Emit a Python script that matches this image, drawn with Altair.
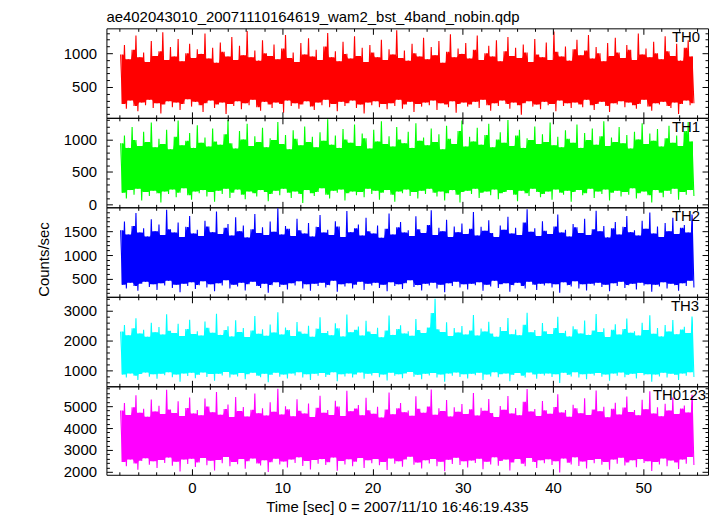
import altair as alt
import numpy as np
import pandas as pd

TITLE = "ae402043010_20071110164619_wam2_bst_4band_nobin.qdp"
X_TITLE = "Time [sec] 0 = 2007/11/10 16:46:19.435"
Y_TITLE = "Counts/sec"
BANDS = ["TH0", "TH1", "TH2", "TH3", "TH0123"]
COLORS = ["#ff0000", "#00ff00", "#0000ff", "#00ffff", "#ff00ff"]
T_START, T_END = -7.9, 55.6
X_DOMAIN = [-9.47, 57.16]
X_TICKS = list(range(-8, 57, 2))
Y_DOMAINS = [[44, 1368], [-45, 1333], [125, 2000], [467, 3467], [1864, 5909]]
Y_TICK_RANGE = [(100, 1300, 100), (0, 1300, 100), (200, 1900, 100), (600, 3400, 200), (2000, 5800, 200)]
Y_MAJOR = [500, 500, 500, 1000, 1000]
PANEL_H = [90, 90, 90, 90, 89]
LABEL_X = [597, 597, 597, 596, 603]

# per-bin peaks and troughs of each light curve (counts/sec)
th0_peaks = [
    980, 1120, 910, 1050, 1260, 940, 1010, 870, 1180, 960,
    1030, 1310, 900, 1090, 950, 1210, 880, 1000, 1140, 930,
    1060, 990, 1290, 920, 1080, 860, 1160, 1020, 950, 1240,
    900, 1110, 970, 1330, 940, 1040, 890, 1190, 1000, 960,
    1130, 910, 1070, 1270, 930, 1010, 870, 1150, 980, 1220,
    950, 1050, 900, 1100, 1300, 940, 1030, 880, 1170, 990,
    920, 1250, 960, 1080, 870, 1120, 1010, 940, 1200, 900,
    1060, 980, 1340, 930, 1040, 890, 1140, 1000, 950, 1230,
    910, 1090, 970, 1180, 860, 1020, 1280, 940, 1070, 990,
    1150, 920, 1050, 1260, 900, 1000, 1110, 950, 1190, 880,
    1030, 1240, 960, 1080, 930, 1130, 1010, 870, 1210, 980,
    940, 1160, 900, 1320, 1020, 950, 1100, 890, 1060, 1200,
    970, 1040, 1270, 920, 1090, 1000, 880, 1150, 960, 1230,
    1010, 930, 1120, 1050, 900, 1290, 980, 1070, 940, 1170,
    1000, 910, 1250, 1030, 960, 1140, 890, 1080, 1190, 950,
]
th0_troughs = [
    250, 180, 300, 220, 140, 270, 230, 310, 190, 260,
    110, 240, 290, 200, 270, 160, 250, 320, 210, 280,
    230, 130, 260, 300, 190, 240, 270, 100, 250, 220,
    290, 170, 260, 230, 310, 200, 150, 280, 240, 190,
    270, 250, 120, 300, 220, 260, 180, 240, 290, 210,
    160, 270, 230, 310, 200, 250, 140, 280, 220, 260,
    300, 190, 240, 110, 270, 230, 290, 200, 250, 170,
    260, 220, 310, 180, 240, 280, 130, 250, 210, 270,
    230, 300, 160, 260, 240, 200, 290, 120, 250, 270,
    210, 240, 280, 190, 310, 230, 150, 260, 220, 300,
    250, 180, 270, 230, 90, 260, 290, 210, 240, 170,
    280, 230, 250, 140, 300, 220, 260, 190, 270, 240,
    200, 310, 230, 160, 250, 280, 220, 130, 260, 240,
    290, 200, 270, 230, 180, 250, 310, 210, 150, 260,
    240, 280, 220, 190, 270, 100, 250, 300, 230, 260,
]

th1_peaks = [
    940, 1060, 870, 1190, 990, 900, 1120, 960, 1260, 880,
    1010, 930, 1150, 850, 1040, 1290, 910, 980, 1100, 870,
    1220, 950, 1030, 890, 1170, 970, 920, 1080, 1300, 940,
    860, 1130, 1000, 1240, 900, 1050, 960, 1180, 880, 1020,
    990, 1270, 930, 1070, 850, 1140, 1010, 910, 1200, 960,
    1040, 880, 1110, 980, 1310, 920, 1060, 870, 1160, 1000,
    950, 1230, 900, 1090, 1020, 860, 1150, 970, 1280, 930,
    1050, 890, 1190, 1000, 940, 1120, 870, 1250, 980, 1030,
    910, 1170, 960, 1080, 850, 1210, 1010, 930, 1130, 1290,
    890, 1040, 970, 1180, 920, 1070, 1240, 880, 1000, 1110,
    950, 1300, 900, 1060, 1150, 870, 1020, 990, 1200, 930,
    1080, 960, 1260, 910, 1040, 880, 1140, 1010, 950, 1230,
    870, 1100, 990, 1170, 920, 1050, 1280, 900, 1030, 960,
    1190, 940, 1070, 860, 1120, 1000, 1250, 930, 1090, 980,
    1160, 890, 1020, 1210, 950, 1060, 900, 1130, 1270, 970,
]
th1_troughs = [
    180, 90, 220, 150, 240, 60, 190, 130, 210, 170,
    30, 200, 160, 230, 110, 180, 250, 140, 70, 200,
    170, 220, 120, 190, 40, 210, 160, 240, 100, 180,
    230, 150, 80, 200, 170, 120, 220, 190, 50, 160,
    210, 140, 240, 180, 100, 200, 160, 20, 220, 170,
    130, 190, 250, 150, 90, 210, 180, 230, 60, 170,
    200, 140, 190, 110, 240, 160, 210, 70, 180, 220,
    150, 40, 200, 170, 230, 130, 190, 90, 210, 160,
    240, 180, 120, 200, 60, 170, 220, 150, 30, 190,
    210, 160, 240, 100, 180, 200, 140, 230, 80, 170,
    190, 220, 150, 50, 210, 170, 130, 240, 190, 110,
    160, 200, 70, 230, 180, 150, 210, 40, 190, 220,
    140, 170, 240, 100, 200, 160, 230, 60, 180, 210,
    120, 190, 150, 250, 90, 170, 200, 140, 30, 220,
    180, 110, 210, 160, 240, 70, 190, 150, 220, 130,
]

th2_peaks = [
    1520, 1700, 1430, 1610, 1880, 1470, 1560, 1390, 1750, 1500,
    1640, 1420, 1950, 1540, 1470, 1680, 1380, 1590, 1820, 1450,
    1530, 1400, 1720, 1600, 1480, 1910, 1440, 1570, 1650, 1410,
    1790, 1500, 1620, 1370, 1540, 1860, 1460, 1580, 1420, 1700,
    1490, 1980, 1430, 1610, 1550, 1400, 1760, 1520, 1450, 1670,
    1390, 1590, 1840, 1470, 1530, 1420, 1710, 1600, 1380, 1920,
    1480, 1560, 1640, 1410, 1780, 1500, 1450, 1620, 1360, 1550,
    1870, 1430, 1580, 1690, 1470, 1520, 1400, 1810, 1540, 1460,
    1630, 1940, 1420, 1570, 1500, 1740, 1380, 1600, 1480, 1660,
    1440, 1550, 1900, 1410, 1590, 1510, 1730, 1460, 1380, 1620,
    1530, 1800, 1450, 1570, 1420, 1680, 1960, 1490, 1560, 1400,
    1710, 1510, 1440, 1600, 1850, 1470, 1530, 1390, 1650, 1580,
    1460, 1760, 1420, 1540, 1930, 1500, 1610, 1370, 1560, 1690,
    1430, 1590, 1820, 1480, 1520, 1410, 1720, 1550, 1890, 1450,
    1600, 1380, 1670, 1500, 1780, 1440, 1570, 1630, 1470, 1850,
]
th2_troughs = [
    380, 300, 420, 350, 250, 400, 440, 330, 390, 270,
    410, 360, 460, 310, 380, 220, 400, 350, 430, 290,
    370, 450, 320, 390, 240, 410, 360, 470, 300, 380,
    340, 420, 260, 390, 440, 350, 310, 400, 210, 370,
    430, 330, 380, 280, 410, 360, 450, 300, 390, 250,
    400, 350, 420, 320, 370, 460, 230, 390, 340, 410,
    300, 380, 440, 270, 400, 360, 420, 310, 380, 240,
    430, 350, 390, 290, 410, 470, 330, 370, 260, 400,
    360, 420, 300, 380, 220, 410, 350, 440, 320, 390,
    280, 400, 370, 430, 250, 380, 340, 460, 310, 390,
    410, 230, 370, 420, 350, 300, 440, 380, 270, 400,
    360, 410, 320, 390, 210, 430, 370, 340, 450, 300,
    390, 260, 400, 360, 420, 330, 380, 240, 410, 350,
    440, 310, 370, 400, 280, 420, 360, 390, 230, 380,
    340, 430, 300, 400, 370, 250, 410, 350, 460, 320,
]

th3_peaks = [
    2300, 2520, 2180, 2410, 2750, 2240, 2360, 2130, 2600, 2280,
    2450, 2200, 2880, 2330, 2250, 2560, 2150, 2390, 2700, 2220,
    2310, 2170, 2640, 2430, 2260, 2900, 2190, 2350, 2480, 2140,
    2680, 2290, 2420, 2120, 2340, 2820, 2230, 2380, 2160, 2540,
    2270, 2950, 2200, 2440, 2350, 2150, 2620, 2300, 2230, 2500,
    2130, 2400, 2780, 2250, 2320, 2180, 2580, 2410, 2140, 2870,
    2280, 2360, 2470, 2170, 2660, 2300, 2220, 2430, 2110, 2340,
    2840, 2190, 2390, 2510, 2240, 2310, 2160, 2720, 2350, 2250,
    2440, 2920, 3400, 2380, 2290, 2610, 2150, 2420, 2270, 2490,
    2200, 2340, 2860, 2170, 2400, 2300, 2630, 2240, 2130, 2450,
    2320, 2760, 2210, 2370, 2180, 2530, 2930, 2280, 2350, 2150,
    2590, 2310, 2220, 2420, 2800, 2250, 2330, 2140, 2480, 2380,
    2240, 2670, 2190, 2340, 2890, 2290, 2410, 2120, 2360, 2550,
    2200, 2390, 2740, 2260, 2310, 2170, 2600, 2350, 2850, 2230,
    2420, 2140, 2520, 2300, 2690, 2210, 2370, 2460, 2250, 2810,
]
th3_troughs = [
    860, 760, 900, 820, 680, 880, 930, 790, 870, 720,
    890, 840, 940, 770, 860, 620, 900, 810, 920, 740,
    850, 930, 780, 880, 650, 890, 830, 950, 760, 860,
    800, 910, 700, 870, 920, 820, 770, 890, 600, 850,
    920, 790, 860, 730, 900, 830, 940, 760, 870, 680,
    890, 820, 910, 780, 850, 940, 640, 870, 800, 900,
    760, 860, 930, 720, 890, 830, 910, 770, 860, 660,
    920, 820, 870, 740, 900, 950, 790, 850, 700, 890,
    830, 910, 760, 860, 620, 900, 820, 930, 780, 870,
    730, 890, 840, 920, 680, 860, 800, 940, 770, 870,
    900, 640, 850, 910, 820, 760, 930, 860, 720, 890,
    830, 900, 780, 870, 580, 920, 850, 800, 940, 760,
    870, 700, 890, 830, 910, 790, 860, 650, 900, 820,
    930, 770, 850, 890, 730, 910, 840, 870, 620, 860,
    800, 920, 760, 890, 850, 680, 900, 820, 940, 780,
]

th0123_peaks = [
    4800, 5150, 4600, 4950, 5500, 4700, 4880, 4520, 5300, 4760,
    5020, 4640, 5750, 4850, 4690, 5220, 4550, 4920, 5400, 4660,
    4830, 4580, 5350, 4990, 4720, 5650, 4610, 4870, 5080, 4500,
    5420, 4780, 4960, 4530, 4840, 5580, 4680, 4900, 4570, 5180,
    4740, 5800, 4620, 5000, 4860, 4540, 5320, 4790, 4670, 5120,
    4510, 4930, 5480, 4700, 4820, 4600, 5250, 4980, 4550, 5700,
    4770, 4890, 5050, 4590, 5380, 4810, 4650, 4970, 4480, 4850,
    5620, 4630, 4910, 5140, 4720, 4800, 4560, 5450, 4880, 4700,
    4990, 5760, 4610, 4900, 4780, 5280, 4530, 4950, 4740, 5100,
    4640, 4860, 5600, 4570, 4930, 4790, 5330, 4690, 4500, 5010,
    4840, 5460, 4660, 4920, 4590, 5200, 5780, 4760, 4870, 4550,
    5240, 4810, 4650, 4960, 5550, 4710, 4830, 4520, 5070, 4900,
    4680, 5360, 4600, 4850, 5720, 4770, 4970, 4490, 4880, 5160,
    4620, 4940, 5440, 4730, 4820, 4580, 5290, 4860, 5680, 4670,
    4950, 4540, 5110, 4800, 5400, 4640, 4890, 5030, 4710, 5520,
]
th0123_troughs = [
    2450, 2250, 2560, 2380, 2100, 2500, 2620, 2320, 2480, 2180,
    2540, 2400, 2650, 2280, 2460, 2020, 2560, 2360, 2600, 2220,
    2430, 2630, 2300, 2510, 2060, 2540, 2390, 2680, 2260, 2450,
    2350, 2590, 2140, 2480, 2610, 2380, 2290, 2530, 1990, 2440,
    2600, 2330, 2470, 2200, 2560, 2400, 2660, 2270, 2490, 2110,
    2540, 2370, 2580, 2310, 2440, 2650, 2050, 2490, 2340, 2570,
    2260, 2460, 2630, 2180, 2530, 2390, 2590, 2300, 2450, 2080,
    2610, 2370, 2480, 2230, 2560, 2690, 2320, 2430, 2150, 2530,
    2380, 2590, 2250, 2460, 2030, 2550, 2360, 2640, 2310, 2480,
    2200, 2520, 2400, 2600, 2120, 2460, 2340, 2670, 2280, 2490,
    2560, 2060, 2430, 2590, 2370, 2260, 2630, 2450, 2180, 2530,
    2390, 2570, 2310, 2480, 1970, 2610, 2420, 2340, 2660, 2270,
    2470, 2150, 2540, 2390, 2590, 2320, 2450, 2090, 2560, 2370,
    2640, 2290, 2430, 2530, 2210, 2580, 2400, 2480, 2040, 2450,
    2340, 2610, 2260, 2520, 2430, 2130, 2560, 2370, 2680, 2310,
]

PEAKS = [th0_peaks, th1_peaks, th2_peaks, th3_peaks, th0123_peaks]
TROUGHS = [th0_troughs, th1_troughs, th2_troughs, th3_troughs, th0123_troughs]
FONT = "Liberation Sans"


def series_frame(i):
    vals = np.empty(len(PEAKS[i]) + len(TROUGHS[i]))
    vals[0::2] = PEAKS[i]
    vals[1::2] = TROUGHS[i]
    df = pd.DataFrame({"t": np.linspace(T_START, T_END, len(vals)), "c": vals})
    nxt = df["c"].shift(-1)
    seg = pd.DataFrame({
        "tm": (df["t"] + df["t"].shift(-1)) / 2,
        "lo": np.minimum(df["c"], nxt),
        "hi": np.maximum(df["c"], nxt),
    }).dropna()
    # dense core of the light curve: the range every neighbouring segment covers
    seg["core_lo"] = seg["lo"].rolling(3, center=True, min_periods=1).max()
    seg["core_hi"] = seg["hi"].rolling(3, center=True, min_periods=1).min()
    return df, seg


def panel(i):
    df, seg = series_frame(i)
    last = i == len(PEAKS) - 1
    lo, hi, step = Y_TICK_RANGE[i]
    yticks = list(range(lo, hi + 1, step))
    major = Y_MAJOR[i]
    xs = alt.Scale(domain=X_DOMAIN, nice=False, zero=False)
    ys = alt.Scale(domain=Y_DOMAINS[i], nice=False, zero=False)
    tx = {"expr": "datum.value % 10 === 0 ? -6 : -3"}
    ty = {"expr": f"datum.value % {major} === 0 ? -6 : -3"}
    common = dict(domain=False, grid=False, zindex=1, tickColor="black", tickWidth=1,
                  minExtent=0)

    x_bottom = alt.Axis(orient="bottom", values=X_TICKS, tickSize=tx, labels=last,
                        labelExpr="datum.value % 10 === 0 ? datum.label : ''", format="d",
                        labelPadding=12, labelOverlap=False, labelFlush=False,
                        title=X_TITLE if last else None, titlePadding=1, titleX=292, **common)
    x_top = alt.Axis(orient="top", values=X_TICKS, tickSize=tx, labels=False, title=None, **common)
    y_left = alt.Axis(orient="left", values=yticks, tickSize=ty,
                      labelExpr=f"datum.value % {major} === 0 ? datum.label : ''", format="d",
                      labelPadding=16, labelOverlap=False, labelFlush=False,
                      title=Y_TITLE if i == 2 else None, titlePadding=12, titleY=52, **common)
    y_right = alt.Axis(orient="right", values=yticks, tickSize=ty, labels=False, title=None, **common)

    core = alt.Chart(seg).mark_area(color=COLORS[i], opacity=1, clip=True).encode(
        x=alt.X("tm:Q", scale=xs, axis=None),
        y=alt.Y("core_lo:Q", scale=ys, axis=None),
        y2="core_hi:Q",
    )
    line = alt.Chart(df).mark_line(color=COLORS[i], strokeWidth=1.1, strokeJoin="bevel", clip=True).encode(
        x=alt.X("t:Q", scale=xs, axis=x_bottom),
        y=alt.Y("c:Q", scale=ys, axis=y_left),
    )
    ghost = alt.Chart(df).mark_line(opacity=0, clip=True).encode(
        x=alt.X("t:Q", scale=xs, axis=x_top),
        y=alt.Y("c:Q", scale=ys, axis=y_right),
    )
    label = alt.Chart(pd.DataFrame({"label": [BANDS[i]]})).mark_text(
        align="right", baseline="top", fontSize=15, font=FONT, color="black"
    ).encode(x=alt.value(LABEL_X[i]), y=alt.value(2), text="label:N")

    ch = alt.layer(core, line, ghost, label).resolve_axis(x="independent", y="independent").properties(
        width=605, height=PANEL_H[i]
    )
    if i == 0:
        ch = ch.properties(title=alt.TitleParams(TITLE, anchor="start", frame="group", offset=1,
                                                 fontSize=15, font=FONT,
                                                 fontWeight="normal", color="black"))
    return ch


chart = alt.vconcat(*[panel(i) for i in range(len(PEAKS))], spacing=0, bounds="flush").properties(
    padding={"left": 28, "top": 0, "right": 0, "bottom": 0}
).configure_view(stroke="black", strokeWidth=1).configure_axis(
    labelFont=FONT, titleFont=FONT, labelFontSize=15, titleFontSize=15,
    labelColor="black", titleColor="black", titleFontWeight="normal"
)

chart.save("out.html", embed_options={"renderer": "svg", "actions": False})
